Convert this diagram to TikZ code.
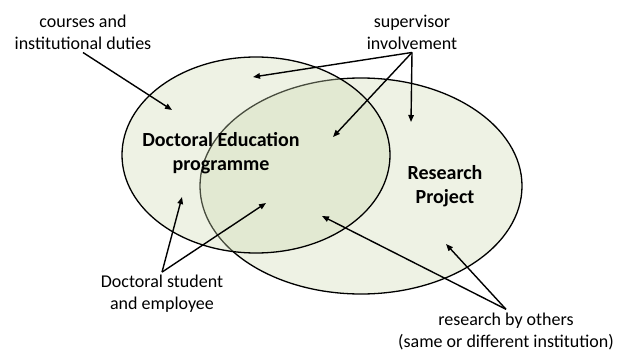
\documentclass[tikz,border=0pt]{standalone}
\usepackage{fontspec}
\setmainfont{Carlito}
\usepackage{xcolor}
\usetikzlibrary{arrows.meta,shapes.geometric}

\definecolor{areafill}{RGB}{238,242,228}
\definecolor{overfill}{RGB}{206,218,178}

\begin{document}
\begin{tikzpicture}[
  x=1pt, y=-1pt,
  >={Triangle[length=7pt,width=5.5pt]},
  lbl/.style={align=center, font=\fontsize{18}{22}\selectfont, inner sep=3pt},
  title/.style={align=center, font=\fontsize{20}{24}\selectfont\bfseries, inner sep=0pt},
  area/.style={ellipse, draw=black, line width=1.3pt, inner sep=0pt},
  ar/.style={->, line width=1.4pt},
]
\useasboundingbox (0,0) rectangle (618,353);
\node[area, fill=areafill, minimum width=322pt, minimum height=216pt] (res) at (361,186) {};
\node[area, fill=overfill, fill opacity=0.35, minimum width=268pt, minimum height=196pt] (doc) at (256,155) {};
\node[title] (doctitle) at (221,153) {Doctoral Education\\programme};
\node[title] (restitle) at (445,186) {Research\\Project};
\node[lbl] (courses) at (83,32) {courses and\\institutional duties};
\node[lbl] (superv) at (412,32) {supervisor\\involvement};
\node[lbl] (student) at (162,294) {Doctoral student\\and employee};
\node[lbl] (others) at (506,331) {research by others\\(same or different institution)};
\coordinate (c1) at (172,110);
\coordinate (s1) at (253,77);
\coordinate (s2) at (333,137);
\coordinate (s3) at (411,122);
\coordinate (d1) at (182,197);
\coordinate (d2) at (266,203);
\coordinate (o1) at (322,216);
\coordinate (o2) at (446,244);
\draw[ar] (courses.south) -- (c1);
\draw[ar] (superv.south) -- (s1);
\draw[ar] (superv.south) -- (s2);
\draw[ar] (superv.south) -- (s3);
\draw[ar] (student.north) -- (d1);
\draw[ar] (student.north) -- (d2);
\draw[ar] (others.north) -- (o1);
\draw[ar] (others.north) -- (o2);
\end{tikzpicture}
\end{document}
